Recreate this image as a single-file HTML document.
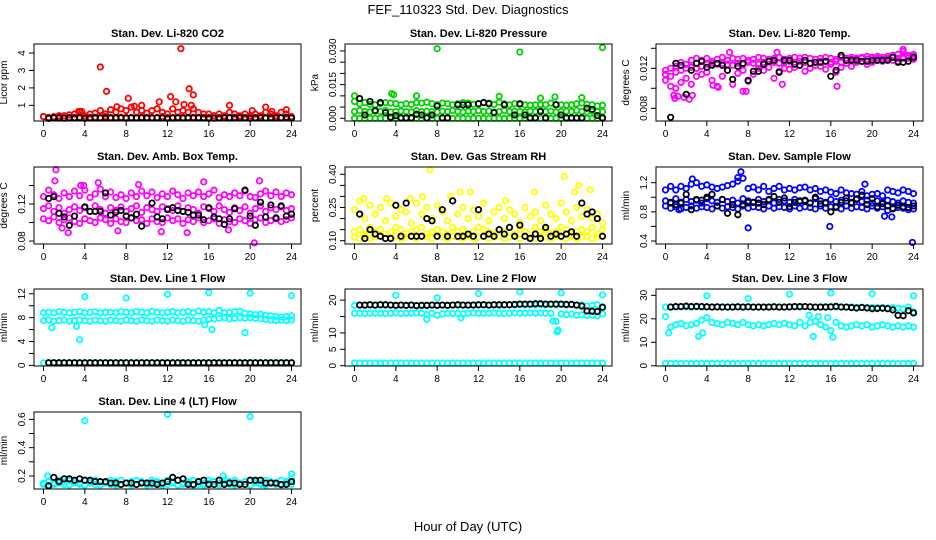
<!DOCTYPE html>
<html><head><meta charset="utf-8"><style>
html,body{margin:0;padding:0;background:#fff;}
svg{display:block;font-family:"Liberation Sans",sans-serif;}
</style></head><body>
<svg id="chart" width="936" height="540" viewBox="0 0 936 540" xmlns="http://www.w3.org/2000/svg">
<rect width="936" height="540" fill="#fff"/>
<text x="468" y="14" font-size="13" text-anchor="middle">FEF_110323  Std. Dev. Diagnostics</text>
<text x="468" y="531" font-size="13" text-anchor="middle">Hour of Day (UTC)</text>
<g id="panels"></g>
</svg>
<script>
const hours=[0,0.5,1,1.5,2,2.5,3,3.5,4,4.5,5,5.5,6,6.5,7,7.5,8,8.5,9,9.5,10,10.5,11,11.5,12,12.5,13,13.5,14,14.5,15,15.5,16,16.5,17,17.5,18,18.5,19,19.5,20,20.5,21,21.5,22,22.5,23,23.5,24];
const xTicks=[0,4,8,12,16,20,24];

// CO2
const co2Band=[0.35,0.3,0.3,0.3,0.28,0.3,0.3,0.32,0.3,0.3,0.32,0.3,0.35,0.3,0.3,0.32,0.3,0.3,0.3,0.32,0.3,0.3,0.3,0.35,0.3,0.3,0.32,0.3,0.3,0.32,0.3,0.3,0.3,0.28,0.3,0.3,0.3,0.32,0.3,0.3,0.3,0.3,0.3,0.28,0.3,0.3,0.3,0.32,0.3];
const co2Scatter=[0.35,0.3,0.35,0.4,0.4,0.45,0.5,0.65,0.4,0.5,0.55,0.7,0.5,0.75,0.6,0.8,0.7,0.9,0.6,0.7,0.55,0.7,0.8,0.6,0.5,0.8,0.6,0.7,0.6,0.8,0.6,0.5,0.5,0.4,0.5,0.4,0.6,0.5,0.4,0.5,0.4,0.5,0.4,0.6,0.5,0.4,0.6,0.5,0.35];
const co2OutX=[5.5,6.1,8.2,13.3,14.1,14.5,12.3,11.2,18,21.5,20.2,23.5,9.5,8.8,7.1,12.8,13.6,14.3,3.4,3.7,11,22.1];
const co2OutY=[3.2,1.8,1.4,4.25,1.95,1.6,1.5,1.2,1.0,0.9,0.7,0.75,1.0,0.95,0.92,1.2,1.05,1.0,0.65,0.65,0.8,0.65];
const co2Black=[null,0.25,0.28,0.27,0.26,0.28,0.27,0.28,0.25,0.27,0.28,0.27,0.28,0.27,0.27,0.28,0.27,0.28,0.27,0.28,0.28,0.27,0.28,0.27,0.25,0.27,0.28,0.27,0.28,0.27,0.28,0.27,0.25,0.26,0.27,0.28,0.28,0.27,0.28,0.27,0.25,0.27,0.28,0.27,0.28,0.27,0.28,0.3,0.27];

// Pressure
const presBand=[0.0075,0.0065,0.007,0.0062,0.006,0.0065,0.007,0.0068,0.0065,0.006,0.0065,0.0062,0.007,0.0068,0.0072,0.0065,0.006,0.0068,0.0065,0.006,0.0065,0.007,0.0068,0.0062,0.0065,0.007,0.0068,0.0062,0.0072,0.0065,0.006,0.0065,0.0062,0.006,0.0058,0.006,0.0062,0.006,0.0068,0.0062,0.006,0.0058,0.006,0.0065,0.0068,0.0062,0.006,0.0055,0.0058];
const presMid=[0.003,0.0035,0.003,0.0028,0.0032,0.003,0.0035,0.0028,0.003,0.0032,0.003,0.0028,0.0035,0.003,0.0032,0.003,0.0028,0.0032,0.003,0.0035,0.003,0.0028,0.0032,0.003,0.0035,0.003,0.0032,0.0028,0.003,0.0035,0.003,0.0032,0.003,0.0028,0.0032,0.003,0.0035,0.003,0.0032,0.0028,0.003,0.0032,0.003,0.0035,0.003,0.0028,0.0032,0.003,0.003];
const presLow=[0,0,0,0,0,0,0,0,0,0,0,0,0,0,0,0,0,0,0,0,0,0,0,0,0,0,0,0,0,0,0,0,0,0,0,0,0,0,0,0,0,0,0,0,0,0,0,0,0];
const presOutX=[8,16,24,0,3.6,3.8,6,14,18,19.4,22];
const presOutY=[0.031,0.0295,0.0315,0.01,0.011,0.0105,0.01,0.0098,0.009,0.0095,0.0092];
const presBlack=[null,0.0088,0.0015,0.0075,0.0035,0.007,0.0025,0.0005,0.0012,0.0002,0.0002,0.0002,0.0018,0.0015,0.0002,0.0015,0.0055,0.0002,0.0002,null,0.006,0.006,0.006,null,0.0065,0.007,0.0065,0.0025,null,0.006,null,0.0015,0.0065,0.0015,0.0002,0.0002,0.003,0.0002,null,0.006,0.0015,0.0002,0.0002,0.0002,0.0002,0.0045,0.004,0.0012,0.0002];

// Li-820 temp
const tempBand=[0.0114,0.0112,0.0116,0.0118,0.012,0.0121,0.012,0.0122,0.0124,0.0125,0.0124,0.0125,0.0124,0.0123,0.0125,0.0124,0.0126,0.0125,0.0124,0.0126,0.0127,0.0126,0.0125,0.0126,0.0127,0.0126,0.0127,0.0126,0.0125,0.0126,0.0127,0.0127,0.0126,0.0127,0.0126,0.0128,0.0129,0.0129,0.013,0.0129,0.013,0.013,0.0129,0.013,0.0131,0.013,0.0131,0.0132,0.0132];
const tempLow=[0.0108,0.0102,0.01,0.0106,0.011,0.0104,0.0112,0.0114,0.0116,0.0108,0.0102,0.0112,0.0118,0.0104,0.0115,0.0118,0.0107,0.0114,0.012,0.0118,0.0121,0.011,0.0117,0.012,0.0119,0.0121,0.0123,0.0117,0.012,0.0123,0.0122,0.0119,0.0124,0.0116,0.0121,0.0125,0.0122,0.0126,0.0127,0.0124,0.0126,0.0128,0.0127,0.0129,0.0128,0.0127,0.013,0.013,0.0129];
const tempHigh=[0.0118,0.012,0.0122,0.0126,0.0124,0.0128,0.013,0.0128,0.013,0.0127,0.0129,0.0131,0.0128,0.013,0.0129,0.013,0.0128,0.0129,0.0131,0.013,0.0129,0.013,0.0131,0.0129,0.013,0.0131,0.013,0.0131,0.013,0.0129,0.013,0.0131,0.013,0.0129,0.0131,0.013,0.0131,0.013,0.0131,0.0132,0.0131,0.0132,0.0131,0.0132,0.0133,0.0134,0.0137,0.0133,0.0134];
const tempOutX=[0.8,0.9,1.2,1.8,2.3,2.6,5.1,7.5,7.8,10.8,11.3,16.6,23.0,6.2,4.6];
const tempOutY=[0.0093,0.009,0.0092,0.0091,0.0089,0.0093,0.0101,0.0097,0.0097,0.0136,0.0104,0.0102,0.0139,0.0136,0.0103];
const tempBlack=[null,0.0071,0.0125,0.0123,0.0094,0.0118,0.0125,0.0127,0.0121,0.0123,0.0125,0.0123,0.0118,0.0109,0.0122,0.0125,0.0108,0.0117,0.0117,0.0124,0.0127,0.0128,0.0116,0.0128,0.0128,0.0124,0.0123,0.0128,0.0125,0.0126,0.0126,0.0127,0.0112,0.0118,0.0133,0.0128,0.0128,0.0128,0.0127,0.0127,0.0128,0.0128,0.0128,0.0128,0.0131,0.0126,0.0126,0.0127,0.0131];

// Amb box temp
const ambMid=[0.115,0.118,0.112,0.116,0.11,0.114,0.117,0.113,0.116,0.112,0.118,0.114,0.11,0.116,0.113,0.117,0.112,0.115,0.118,0.111,0.116,0.114,0.112,0.117,0.115,0.113,0.118,0.112,0.116,0.114,0.11,0.117,0.115,0.112,0.118,0.114,0.111,0.116,0.113,0.117,0.11,0.115,0.118,0.112,0.116,0.114,0.117,0.113,0.115];
const ambHigh=[0.128,0.135,0.13,0.126,0.132,0.128,0.134,0.129,0.135,0.127,0.131,0.136,0.128,0.133,0.127,0.13,0.126,0.132,0.128,0.134,0.129,0.133,0.127,0.131,0.128,0.134,0.13,0.126,0.132,0.129,0.133,0.128,0.131,0.135,0.127,0.13,0.128,0.132,0.129,0.134,0.128,0.127,0.131,0.134,0.129,0.133,0.128,0.132,0.13];
const ambLow=[0.104,0.102,0.106,0.1,0.103,0.105,0.101,0.099,0.104,0.102,0.1,0.105,0.103,0.099,0.104,0.101,0.1,0.105,0.102,0.103,0.099,0.104,0.101,0.1,0.105,0.102,0.104,0.099,0.103,0.101,0.105,0.1,0.102,0.104,0.099,0.103,0.101,0.1,0.104,0.102,0.099,0.103,0.105,0.1,0.102,0.104,0.101,0.103,0.105];
const ambOutX=[1.2,1.1,2.4,3.9,7.2,11.4,13.9,17.9,20.4,20.9,15.5,9.2,1.8,5.3,3.6];
const ambOutY=[0.157,0.145,0.089,0.14,0.091,0.09,0.089,0.092,0.078,0.145,0.144,0.141,0.094,0.143,0.14];
const ambBlack=[null,0.126,0.128,0.11,0.106,0.097,0.107,null,0.117,0.112,0.112,0.112,0.132,0.108,0.111,0.113,0.107,0.105,0.109,0.096,null,0.121,0.106,0.104,0.114,0.116,0.113,0.112,0.111,0.108,0.108,0.103,0.116,0.106,0.104,0.098,0.104,0.115,null,0.135,0.107,0.097,0.122,0.106,0.119,0.105,0.118,0.107,0.109];

// Gas stream RH
const rhLow=[0.115,0.11,0.12,0.11,0.115,0.12,0.11,0.115,0.12,0.11,0.115,0.12,0.11,0.12,0.115,0.11,0.12,0.115,0.11,0.12,0.115,0.11,0.12,0.11,0.115,0.12,0.11,0.115,0.12,0.11,0.115,0.12,0.11,0.12,0.115,0.11,0.12,0.115,0.11,0.12,0.115,0.11,0.12,0.11,0.115,0.12,0.11,0.115,0.12];
const rhMid=[0.14,0.15,0.13,0.16,0.14,0.15,0.13,0.14,0.16,0.15,0.13,0.14,0.15,0.16,0.13,0.14,0.15,0.14,0.13,0.16,0.14,0.15,0.13,0.14,0.16,0.15,0.14,0.13,0.15,0.14,0.16,0.13,0.15,0.14,0.13,0.16,0.14,0.15,0.13,0.14,0.16,0.15,0.13,0.14,0.15,0.14,0.16,0.13,0.15];
const rhHigh=[0.24,0.28,0.2,0.26,0.22,0.25,0.19,0.27,0.21,0.24,0.23,0.18,0.27,0.22,0.25,0.2,0.26,0.23,0.19,0.28,0.22,0.25,0.2,0.24,0.21,0.27,0.19,0.23,0.25,0.2,0.24,0.22,0.18,0.25,0.21,0.23,0.19,0.26,0.22,0.2,0.27,0.23,0.19,0.25,0.21,0.24,0.2,0.22,0.18];
const rhOutX=[7.3,20.3,21.7,22.8,17.4,10.2,11.2,6.6,0.9,9.3,14.6,21.3,3.1,5.4];
const rhOutY=[0.42,0.39,0.35,0.33,0.32,0.32,0.32,0.3,0.29,0.3,0.28,0.32,0.29,0.29];
const rhBlack=[null,0.22,0.11,0.15,0.13,0.12,0.11,0.11,0.26,0.12,0.27,0.12,0.12,0.12,0.2,0.19,0.12,0.24,0.12,0.28,0.12,0.12,0.13,0.12,0.24,0.12,0.13,0.12,0.15,0.13,0.16,0.12,0.17,0.12,0.11,0.13,0.11,0.16,0.12,0.13,0.12,0.13,0.14,0.12,0.27,0.22,0.23,0.2,0.12];

// Sample flow
const sfHigh=[1.1,1.15,1.1,1.15,1.12,1.18,1.2,1.15,1.17,1.14,1.12,1.14,1.16,1.18,1.22,1.26,1.12,1.14,1.1,1.15,1.08,1.12,1.15,1.1,1.12,1.1,1.13,1.14,1.1,1.12,1.08,1.1,1.07,1.05,1.1,1.06,1.05,1.04,1.08,1.02,1.04,1.05,1.02,1.1,1.08,1.06,1.1,1.08,1.05];
const sfMid=[0.95,0.92,0.98,0.93,0.97,0.94,0.96,0.92,0.98,0.95,0.93,0.97,0.94,0.96,0.92,0.98,0.95,0.93,0.97,0.94,0.96,0.92,0.97,0.95,0.93,0.97,0.94,0.96,0.92,0.98,0.95,0.93,0.97,0.94,0.96,0.95,0.93,0.97,0.94,0.96,0.92,0.95,0.93,0.96,0.94,0.92,0.95,0.93,0.92];
const sfLow=[0.88,0.85,0.87,0.84,0.86,0.88,0.85,0.87,0.86,0.84,0.88,0.85,0.87,0.86,0.84,0.88,0.85,0.87,0.86,0.84,0.88,0.85,0.87,0.86,0.84,0.88,0.85,0.87,0.86,0.84,0.88,0.85,0.87,0.86,0.84,0.88,0.85,0.87,0.86,0.84,0.88,0.85,0.87,0.82,0.84,0.86,0.85,0.83,0.84];
const sfOutX=[8.0,15.9,23.9,7.3,7.0,21.2,21.9,19.3,2.6,1.3];
const sfOutY=[0.58,0.6,0.38,1.35,1.27,0.74,0.73,1.18,1.25,0.83];
const sfBlack=[null,0.93,0.9,0.92,1.04,0.83,0.97,0.96,1.0,1.04,0.88,0.97,0.78,0.9,0.76,0.9,0.93,0.93,0.92,0.9,0.97,1.01,0.93,0.99,0.87,0.93,0.95,0.95,0.92,1.0,0.91,0.92,0.8,0.87,0.93,0.99,0.92,0.98,1.03,0.9,0.98,0.87,0.91,0.88,0.85,0.89,0.87,0.86,0.88];

// Line 1
const l1High=[8.8,8.9,8.8,9.0,8.9,8.8,8.9,9.0,8.8,8.9,9.0,8.8,8.9,8.9,8.8,9.0,8.9,8.8,9.0,8.9,8.8,9.0,8.9,8.8,8.9,9.0,8.8,8.9,9.0,8.8,9.1,8.9,9.0,8.8,9.2,8.8,8.9,9.0,9.1,8.7,8.6,8.5,8.6,8.4,8.3,8.2,8.1,8.2,8.3];
const l1Low=[7.5,7.6,7.4,7.5,7.6,7.4,7.5,7.6,7.5,7.4,7.6,7.5,7.4,7.6,7.5,7.4,7.6,7.5,7.4,7.6,7.5,7.4,7.6,7.5,7.4,7.6,7.5,7.4,7.6,7.5,7.4,7.6,7.7,7.8,7.9,8.0,7.8,7.9,8.0,7.9,8.0,7.9,7.8,7.7,7.6,7.5,7.6,7.5,7.6];
const l1Base=[0.4,0.4,0.4,0.4,0.4,0.4,0.4,0.4,0.4,0.4,0.4,0.4,0.4,0.4,0.4,0.4,0.4,0.4,0.4,0.4,0.4,0.4,0.4,0.4,0.4,0.4,0.4,0.4,0.4,0.4,0.4,0.4,0.4,0.4,0.4,0.4,0.4,0.4,0.4,0.4,0.4,0.4,0.4,0.4,0.4,0.4,0.4,0.4,0.4];
const l1OutX=[4,8,12,16,20,24,3.5,0.8,3.2,19.5,16.3,15.6];
const l1OutY=[11.5,11.3,11.9,12.2,12.1,11.7,4.3,6.3,6.5,5.5,6.0,6.8];
const l1Black=[null,0.45,0.45,0.45,0.45,0.45,0.45,0.45,0.45,0.45,0.45,0.45,0.45,0.45,0.45,0.45,0.45,0.45,0.45,0.45,0.45,0.45,0.45,0.45,0.45,0.45,0.45,0.45,0.45,0.45,0.45,0.45,0.45,0.45,0.45,0.45,0.45,0.45,0.45,0.45,0.45,0.45,0.45,0.45,0.45,0.45,0.45,0.45,0.45];

// Line 2
const l2High=[18.4,18.5,18.4,18.5,18.4,18.5,18.4,18.5,18.4,18.5,18.4,18.5,18.4,18.5,18.4,18.5,18.4,18.5,18.4,18.5,18.4,18.5,18.4,18.5,18.4,18.5,18.4,18.5,18.4,18.5,18.6,18.5,18.6,18.5,18.6,18.5,18.6,18.5,18.6,18.5,18.6,18.5,18.6,18.4,18.6,18.2,18.4,18.6,18.0];
const l2Mid=[16.0,16.0,15.9,16.0,16.0,16.0,15.9,16.0,16.1,15.9,16.0,16.0,16.1,16.0,15.6,16.0,15.4,15.8,16.0,15.9,16.0,15.8,16.0,16.1,16.0,16.0,16.0,16.1,16.0,15.9,16.0,16.1,16.0,16.0,16.1,16.0,16.1,16.0,16.0,13.5,15.8,15.6,15.7,15.4,15.5,15.3,15.4,15.2,15.8];
const l2Base=[0.8,0.8,0.8,0.8,0.8,0.8,0.8,0.8,0.8,0.8,0.8,0.8,0.8,0.8,0.8,0.8,0.8,0.8,0.8,0.8,0.8,0.8,0.8,0.8,0.8,0.8,0.8,0.8,0.8,0.8,0.8,0.8,0.8,0.8,0.8,0.8,0.8,0.8,0.8,0.8,0.8,0.8,0.8,0.8,0.8,0.8,0.8,0.8,0.8];
const l2OutX=[4,8,12,16,20,24,19.6,19.7,19.2,7.0,10.3];
const l2OutY=[21.5,20.7,22.0,22.5,22.2,21.6,10.3,10.8,13.6,14.2,14.6];
const l2Black=[null,18.5,18.5,18.6,18.5,18.6,18.6,18.5,18.4,18.5,18.4,18.5,18.3,18.4,18.4,18.5,18.4,18.5,18.4,18.5,18.6,18.5,18.5,18.5,18.6,18.6,18.5,18.6,18.6,18.6,18.6,18.7,18.8,18.8,18.8,18.9,18.9,18.8,18.8,18.8,18.8,18.7,18.7,18.5,18.2,16.7,16.6,16.5,17.8];

// Line 3
const l3High=[25.0,25.1,25.0,25.2,25.1,25.0,25.1,25.0,25.2,25.1,25.0,25.1,25.0,25.1,25.2,25.0,25.1,25.0,25.1,25.0,25.1,25.2,25.0,25.1,25.0,25.1,25.0,25.2,25.1,25.0,25.1,25.2,25.1,25.0,25.1,25.0,25.1,24.9,25.0,24.8,24.9,24.8,24.8,24.6,24.8,24.5,24.2,25.0,23.0];
const l3Mid=[21.0,16.5,17.5,18.0,17.0,17.5,18.0,19.5,20.5,18.5,18.0,17.5,18.5,18.0,17.5,18.5,17.5,17.0,17.5,17.0,17.5,18.0,17.5,18.0,17.5,17.0,18.5,17.0,18.5,19.0,17.5,16.5,15.0,18.5,17.0,16.5,17.0,17.5,17.0,17.5,16.5,17.0,17.5,17.0,16.5,17.0,16.5,17.0,16.5];
const l3Base=[1.0,1.0,1.0,1.0,1.0,1.0,1.0,1.0,1.0,1.0,1.0,1.0,1.0,1.0,1.0,1.0,1.0,1.0,1.0,1.0,1.0,1.0,1.0,1.0,1.0,1.0,1.0,1.0,1.0,1.0,1.0,1.0,1.0,1.0,1.0,1.0,1.0,1.0,1.0,1.0,1.0,1.0,1.0,1.0,1.0,1.0,1.0,1.0,1.0];
const l3OutX=[4,8,12,16,20,24,0.3,3.2,3.6,14.3,16.2,15.7,13.9,14.8];
const l3OutY=[29.8,28.6,30.5,31.0,30.7,29.8,14.0,12.5,14.0,12.5,12.2,20.5,21.5,21.0];
const l3Black=[null,25.0,25.2,25.2,25.4,25.2,25.3,25.2,25.1,25.0,25.1,25.0,25.0,25.0,25.1,25.0,25.1,25.0,25.0,25.0,25.0,25.1,25.0,25.0,25.1,25.2,25.2,25.2,25.1,25.0,25.0,25.0,25.1,25.3,25.0,25.0,24.8,24.6,24.8,24.6,24.3,24.4,24.5,24.3,23.8,21.5,21.3,23.5,22.5];

// Line 4
const l4Band=[0.15,0.16,0.15,0.17,0.16,0.17,0.16,0.15,0.17,0.16,0.17,0.16,0.15,0.17,0.16,0.17,0.15,0.16,0.17,0.16,0.15,0.17,0.16,0.15,0.17,0.16,0.17,0.15,0.16,0.17,0.16,0.15,0.17,0.16,0.15,0.17,0.16,0.17,0.15,0.16,0.17,0.16,0.15,0.17,0.16,0.15,0.17,0.16,0.18];
const l4Low=[0.14,0.135,0.14,0.15,0.14,0.135,0.15,0.14,0.135,0.15,0.14,0.135,0.15,0.14,0.135,0.14,0.15,0.135,0.14,0.15,0.135,0.14,0.15,0.135,0.14,0.15,0.135,0.14,0.15,0.135,0.14,0.135,0.15,0.14,0.135,0.15,0.14,0.135,0.15,0.14,0.135,0.15,0.14,0.135,0.15,0.14,0.135,0.15,0.14];
const l4OutX=[4,12,20,24,0.4,17.4];
const l4OutY=[0.59,0.635,0.62,0.215,0.2,0.2];
const l4Black=[null,0.13,0.19,0.16,0.18,0.18,0.17,0.18,0.17,0.17,0.16,0.16,0.16,0.15,0.15,0.14,0.15,0.15,0.14,0.15,0.15,0.15,0.14,0.15,0.16,0.19,0.17,0.18,0.14,0.14,0.16,0.17,0.14,0.14,0.17,0.14,0.15,0.15,0.14,0.14,0.17,0.17,0.17,0.15,0.15,0.15,0.14,0.14,0.16];

const panels=[
 {name:'co2',title:'Stan. Dev. Li-820 CO2',ylab:'Licor ppm',col:0,row:0,ymin:0.1,ymax:4.52,ticks:[1,2,3,4],labels:['1','2','3','4'],color:'#ff0000',
  series:[co2Band,co2Scatter],outX:co2OutX,outY:co2OutY,black:co2Black},
 {name:'pressure',title:'Stan. Dev. Li-820 Pressure',ylab:'kPa',col:1,row:0,ymin:-0.0012,ymax:0.0331,ticks:[0,0.005,0.01,0.015,0.02,0.025,0.03],labels:['0.000','','','0.015','','','0.030'],color:'#00d000',
  series:[presLow,presMid,presBand],outX:presOutX,outY:presOutY,black:presBlack},
 {name:'li820-temp',title:'Stan. Dev. Li-820 Temp.',ylab:'degrees C',col:2,row:0,ymin:0.00673,ymax:0.01443,ticks:[0.008,0.01,0.012,0.014],labels:['0.008','','0.012',''],color:'#ff00ff',
  series:[tempLow,tempHigh,tempBand],outX:tempOutX,outY:tempOutY,black:tempBlack},
 {name:'amb-box-temp',title:'Stan. Dev. Amb. Box Temp.',ylab:'degrees C',col:0,row:1,ymin:0.0768,ymax:0.16,ticks:[0.08,0.1,0.12,0.14],labels:['0.08','','0.12',''],color:'#ff00ff',
  series:[ambLow,ambHigh,ambMid],outX:ambOutX,outY:ambOutY,black:ambBlack},
 {name:'gas-rh',title:'Stan. Dev. Gas Stream RH',ylab:'percent',col:1,row:1,ymin:0.085,ymax:0.433,ticks:[0.1,0.15,0.2,0.25,0.3,0.35,0.4],labels:['0.10','','','0.25','','','0.40'],color:'#ffff00',
  series:[rhHigh,rhMid,rhLow],outX:rhOutX,outY:rhOutY,black:rhBlack},
 {name:'sample-flow',title:'Stan. Dev. Sample Flow',ylab:'ml/min',col:2,row:1,ymin:0.359,ymax:1.415,ticks:[0.4,0.6,0.8,1.0,1.2],labels:['0.4','','0.8','','1.2'],color:'#0000ff',
  series:[sfHigh,sfLow,sfMid],outX:sfOutX,outY:sfOutY,black:sfBlack},
 {name:'line1-flow',title:'Stan. Dev. Line 1 Flow',ylab:'ml/min',col:0,row:2,ymin:-0.1,ymax:12.8,ticks:[0,2,4,6,8,10,12],labels:['0','','4','','8','','12'],color:'#00ffff',
  series:[l1High,l1Low,l1Base],outX:l1OutX,outY:l1OutY,black:l1Black},
 {name:'line2-flow',title:'Stan. Dev. Line 2 Flow',ylab:'ml/min',col:1,row:2,ymin:-0.1,ymax:23.4,ticks:[0,5,10,15,20],labels:['0','5','10','','20'],color:'#00ffff',
  series:[l2High,l2Mid,l2Base],outX:l2OutX,outY:l2OutY,black:l2Black},
 {name:'line3-flow',title:'Stan. Dev. Line 3 Flow',ylab:'ml/min',col:2,row:2,ymin:-0.1,ymax:32.7,ticks:[0,10,20,30],labels:['0','10','20','30'],color:'#00ffff',
  series:[l3High,l3Mid,l3Base],outX:l3OutX,outY:l3OutY,black:l3Black},
 {name:'line4-flow',title:'Stan. Dev. Line 4 (LT) Flow',ylab:'ml/min',col:0,row:3,ymin:0.108,ymax:0.652,ticks:[0.2,0.3,0.4,0.5,0.6],labels:['0.2','','0.4','','0.6'],color:'#00ffff',
  series:[l4Low,l4Band],outX:l4OutX,outY:l4OutY,black:l4Black}
];

const NS='http://www.w3.org/2000/svg';
const colX=[34,345,656], rowY=[44,167,289,412], PW=267, PH=77;
const root=document.getElementById('panels');
function mk(tag,attrs,parent){const e=document.createElementNS(NS,tag);for(const k in attrs)e.setAttribute(k,attrs[k]);parent.appendChild(e);return e;}

panels.forEach(p=>{
  const x0=colX[p.col], y0=rowY[p.row];
  const xs=h=>x0+9.5+h*(248/24);
  const ys=v=>y0+PH-(v-p.ymin)/(p.ymax-p.ymin)*PH;
  const g=mk('g',{},root);
  
  
  const t=mk('text',{x:x0+PW/2,y:y0-7,'font-size':'11','font-weight':'bold','text-anchor':'middle'},g);
  t.textContent=p.title;
  
  
  const yl=mk('text',{transform:`translate(${x0-27},${y0+PH/2}) rotate(-90)`,'font-size':'10','text-anchor':'middle'},g);
  yl.textContent=p.ylab;
  
  
  const marks=mk('g',{fill:'none','stroke-width':'1.8'},g);
  
  
  p.series.forEach(s=>{s.forEach((v,i)=>{if(v===null)return;
    const c=mk('circle',{cx:xs(hours[i]),cy:ys(v),r:2.7,stroke:p.color},marks);
    
    });});
  p.outX.forEach((h,i)=>{
    const c=mk('circle',{cx:xs(h),cy:ys(p.outY[i]),r:2.7,stroke:p.color},marks);
    
    });
  p.black.forEach((v,i)=>{if(v===null)return;
    const c=mk('circle',{cx:xs(hours[i]),cy:ys(v),r:2.7,stroke:'#000'},marks);
    
    });
  const b=mk('rect',{x:x0,y:y0,width:PW,height:PH,fill:'none',stroke:'#000','stroke-width':'1'},g);
  
  
  const xa=mk('g',{stroke:'#000','stroke-width':'1'},g);
  
  
  xTicks.forEach(h=>{mk('line',{x1:xs(h),x2:xs(h),y1:y0+PH,y2:y0+PH+5},xa);
    const tl=mk('text',{x:xs(h),y:y0+PH+16,'font-size':'10','text-anchor':'middle',stroke:'none',fill:'#000'},xa);
    tl.textContent=String(h);
    
    });
  const ya=mk('g',{stroke:'#000','stroke-width':'1'},g);
  
  
  mk('line',{x1:x0,x2:x0,y1:ys(p.ticks[0]),y2:ys(p.ticks[p.ticks.length-1])},ya);
  p.ticks.forEach((v,i)=>{const y=ys(v);mk('line',{x1:x0-5,x2:x0,y1:y,y2:y},ya);
    if(p.labels[i]){const tl=mk('text',{transform:`translate(${x0-9},${y}) rotate(-90)`,'font-size':'10','text-anchor':'middle',stroke:'none',fill:'#000'},ya);
    tl.textContent=p.labels[i];
    
    }});
});
</script>
</body></html>
